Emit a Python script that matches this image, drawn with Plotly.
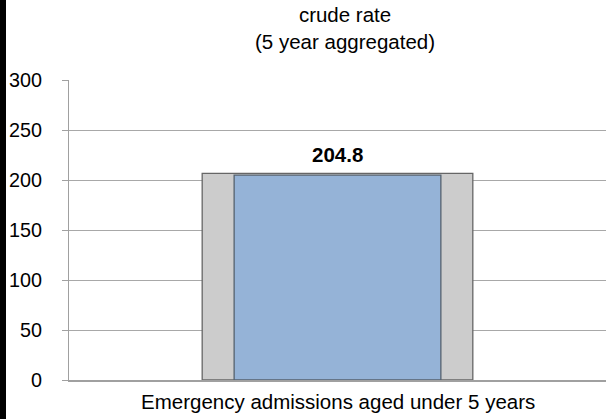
import plotly.graph_objects as go

categories = ["Emergency admissions aged under 5 years"]
rate_values = [204.8]
comparator_values = [206.7]
rate_labels = ["204.8"]
y_ticks = [0, 50, 100, 150, 200, 250, 300]

W, H = 606, 419
L, R, T, B = 69, 0, 80, 39
pw = W - L - R
FONT = "Liberation Sans, Arial"

fig = go.Figure()
xs = list(range(len(categories)))
fig.add_trace(go.Bar(
    x=xs, y=comparator_values, width=0.504,
    marker=dict(color="#cccccc", line=dict(color="#666666", width=1.3)),
    hoverinfo="skip", showlegend=False,
))
fig.add_trace(go.Bar(
    x=xs, y=rate_values, width=0.385,
    marker=dict(color="#95b3d7", line=dict(color="#55626f", width=1.3)),
    showlegend=False,
))
for xi, v, lab in zip(xs, rate_values, rate_labels):
    fig.add_annotation(x=xi, y=v, text="<b>%s</b>" % lab, showarrow=False,
                       yanchor="middle", yshift=21,
                       font=dict(family=FONT, size=20.5, color="#000000"))

fig.add_annotation(x=(345 - L) / pw, y=1, xref="paper", yref="paper",
                   text="crude rate<br>(5 year aggregated)", showarrow=False,
                   yanchor="middle", yshift=52,
                   font=dict(family=FONT, size=20.5, color="#000000"))
fig.add_annotation(x=(338 - L) / pw, y=0, xref="paper", yref="paper",
                   text=categories[0], showarrow=False,
                   yanchor="middle", yshift=-21,
                   font=dict(family=FONT, size=20.5, color="#000000"))

# black edge strip on the left
fig.add_shape(type="rect", xref="paper", yref="paper",
              x0=-L / pw, x1=(6 - L) / pw, y0=-0.5, y1=1.5,
              fillcolor="#000000", line=dict(width=0), layer="above")

fig.update_layout(
    width=W, height=H,
    margin=dict(l=L, r=R, t=T, b=B, pad=0),
    paper_bgcolor="#ffffff", plot_bgcolor="#ffffff",
    barmode="overlay",
    font=dict(family=FONT, size=20, color="#000000"),
    xaxis=dict(range=[-0.5, 0.5], showticklabels=False, showgrid=False,
               zeroline=False, showline=True, linecolor="#a0a0a0", linewidth=1.5,
               ticks="", fixedrange=True),
    yaxis=dict(range=[0, 300], tickvals=y_ticks, showgrid=True,
               gridcolor="#a8a8a8", gridwidth=1, zeroline=False,
               showline=True, linecolor="#a0a0a0", linewidth=1,
               ticks="outside", ticklen=6, tickcolor="#a0a0a0",
               ticklabelstandoff=16,
               tickfont=dict(family=FONT, size=19.8, color="#000000")),
)

fig.write_html("out.html", config={"displayModeBar": False},
               post_script="document.body.style.margin='0px';document.body.style.padding='0px';")
